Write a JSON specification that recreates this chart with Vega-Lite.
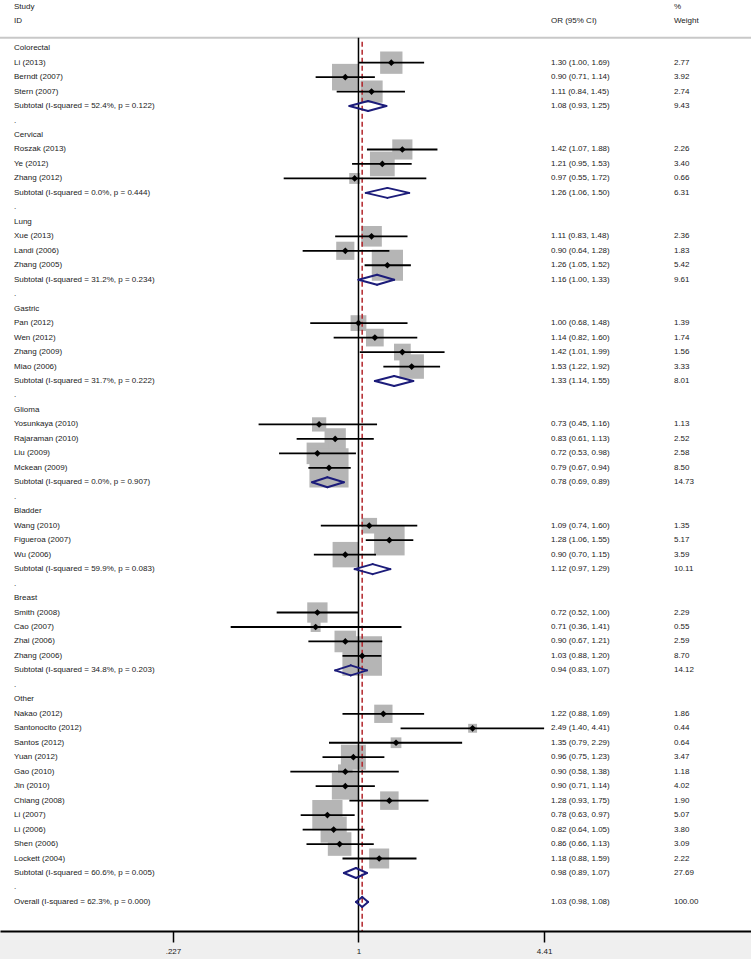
{
  "$schema": "https://vega.github.io/schema/vega-lite/v6.json",
  "width": 751,
  "height": 931,
  "autosize": {"type": "none"},
  "padding": {"left": 0, "right": 0, "top": 0, "bottom": 28},
  "background": "#efefef",
  "view": {"fill": "white", "stroke": null},
  "config": {
    "text": {"font": "Liberation Sans", "fontSize": 8, "color": "#1a1a1a"}
  },
  "datasets": {
    "rows": [
      {"row": 0, "type": "group", "label": "Colorectal"},
      {"row": 1, "type": "study", "label": "Li (2013)", "est": 1.30, "lo": 1.00, "hi": 1.69, "w": 2.77, "ci": "1.30 (1.00, 1.69)"},
      {"row": 2, "type": "study", "label": "Berndt (2007)", "est": 0.90, "lo": 0.71, "hi": 1.14, "w": 3.92, "ci": "0.90 (0.71, 1.14)"},
      {"row": 3, "type": "study", "label": "Stern (2007)", "est": 1.11, "lo": 0.84, "hi": 1.45, "w": 2.74, "ci": "1.11 (0.84, 1.45)"},
      {"row": 4, "type": "subtotal", "label": "Subtotal  (I-squared = 52.4%, p = 0.122)", "est": 1.08, "lo": 0.93, "hi": 1.25, "w": 9.43, "ci": "1.08 (0.93, 1.25)"},
      {"row": 5, "type": "sep", "label": "."},
      {"row": 6, "type": "group", "label": "Cervical"},
      {"row": 7, "type": "study", "label": "Roszak (2013)", "est": 1.42, "lo": 1.07, "hi": 1.88, "w": 2.26, "ci": "1.42 (1.07, 1.88)"},
      {"row": 8, "type": "study", "label": "Ye (2012)", "est": 1.21, "lo": 0.95, "hi": 1.53, "w": 3.40, "ci": "1.21 (0.95, 1.53)"},
      {"row": 9, "type": "study", "label": "Zhang (2012)", "est": 0.97, "lo": 0.55, "hi": 1.72, "w": 0.66, "ci": "0.97 (0.55, 1.72)"},
      {"row": 10, "type": "subtotal", "label": "Subtotal  (I-squared = 0.0%, p = 0.444)", "est": 1.26, "lo": 1.06, "hi": 1.50, "w": 6.31, "ci": "1.26 (1.06, 1.50)"},
      {"row": 11, "type": "sep", "label": "."},
      {"row": 12, "type": "group", "label": "Lung"},
      {"row": 13, "type": "study", "label": "Xue (2013)", "est": 1.11, "lo": 0.83, "hi": 1.48, "w": 2.36, "ci": "1.11 (0.83, 1.48)"},
      {"row": 14, "type": "study", "label": "Landi (2006)", "est": 0.90, "lo": 0.64, "hi": 1.28, "w": 1.83, "ci": "0.90 (0.64, 1.28)"},
      {"row": 15, "type": "study", "label": "Zhang (2005)", "est": 1.26, "lo": 1.05, "hi": 1.52, "w": 5.42, "ci": "1.26 (1.05, 1.52)"},
      {"row": 16, "type": "subtotal", "label": "Subtotal  (I-squared = 31.2%, p = 0.234)", "est": 1.16, "lo": 1.00, "hi": 1.33, "w": 9.61, "ci": "1.16 (1.00, 1.33)"},
      {"row": 17, "type": "sep", "label": "."},
      {"row": 18, "type": "group", "label": "Gastric"},
      {"row": 19, "type": "study", "label": "Pan (2012)", "est": 1.00, "lo": 0.68, "hi": 1.48, "w": 1.39, "ci": "1.00 (0.68, 1.48)"},
      {"row": 20, "type": "study", "label": "Wen (2012)", "est": 1.14, "lo": 0.82, "hi": 1.60, "w": 1.74, "ci": "1.14 (0.82, 1.60)"},
      {"row": 21, "type": "study", "label": "Zhang (2009)", "est": 1.42, "lo": 1.01, "hi": 1.99, "w": 1.56, "ci": "1.42 (1.01, 1.99)"},
      {"row": 22, "type": "study", "label": "Miao (2006)", "est": 1.53, "lo": 1.22, "hi": 1.92, "w": 3.33, "ci": "1.53 (1.22, 1.92)"},
      {"row": 23, "type": "subtotal", "label": "Subtotal  (I-squared = 31.7%, p = 0.222)", "est": 1.33, "lo": 1.14, "hi": 1.55, "w": 8.01, "ci": "1.33 (1.14, 1.55)"},
      {"row": 24, "type": "sep", "label": "."},
      {"row": 25, "type": "group", "label": "Glioma"},
      {"row": 26, "type": "study", "label": "Yosunkaya (2010)", "est": 0.73, "lo": 0.45, "hi": 1.16, "w": 1.13, "ci": "0.73 (0.45, 1.16)"},
      {"row": 27, "type": "study", "label": "Rajaraman (2010)", "est": 0.83, "lo": 0.61, "hi": 1.13, "w": 2.52, "ci": "0.83 (0.61, 1.13)"},
      {"row": 28, "type": "study", "label": "Liu (2009)", "est": 0.72, "lo": 0.53, "hi": 0.98, "w": 2.58, "ci": "0.72 (0.53, 0.98)"},
      {"row": 29, "type": "study", "label": "Mckean (2009)", "est": 0.79, "lo": 0.67, "hi": 0.94, "w": 8.50, "ci": "0.79 (0.67, 0.94)"},
      {"row": 30, "type": "subtotal", "label": "Subtotal  (I-squared = 0.0%, p = 0.907)", "est": 0.78, "lo": 0.69, "hi": 0.89, "w": 14.73, "ci": "0.78 (0.69, 0.89)"},
      {"row": 31, "type": "sep", "label": "."},
      {"row": 32, "type": "group", "label": "Bladder"},
      {"row": 33, "type": "study", "label": "Wang (2010)", "est": 1.09, "lo": 0.74, "hi": 1.60, "w": 1.35, "ci": "1.09 (0.74, 1.60)"},
      {"row": 34, "type": "study", "label": "Figueroa (2007)", "est": 1.28, "lo": 1.06, "hi": 1.55, "w": 5.17, "ci": "1.28 (1.06, 1.55)"},
      {"row": 35, "type": "study", "label": "Wu (2006)", "est": 0.90, "lo": 0.70, "hi": 1.15, "w": 3.59, "ci": "0.90 (0.70, 1.15)"},
      {"row": 36, "type": "subtotal", "label": "Subtotal  (I-squared = 59.9%, p = 0.083)", "est": 1.12, "lo": 0.97, "hi": 1.29, "w": 10.11, "ci": "1.12 (0.97, 1.29)"},
      {"row": 37, "type": "sep", "label": "."},
      {"row": 38, "type": "group", "label": "Breast"},
      {"row": 39, "type": "study", "label": "Smith (2008)", "est": 0.72, "lo": 0.52, "hi": 1.00, "w": 2.29, "ci": "0.72 (0.52, 1.00)"},
      {"row": 40, "type": "study", "label": "Cao (2007)", "est": 0.71, "lo": 0.36, "hi": 1.41, "w": 0.55, "ci": "0.71 (0.36, 1.41)"},
      {"row": 41, "type": "study", "label": "Zhai (2006)", "est": 0.90, "lo": 0.67, "hi": 1.21, "w": 2.59, "ci": "0.90 (0.67, 1.21)"},
      {"row": 42, "type": "study", "label": "Zhang (2006)", "est": 1.03, "lo": 0.88, "hi": 1.20, "w": 8.70, "ci": "1.03 (0.88, 1.20)"},
      {"row": 43, "type": "subtotal", "label": "Subtotal  (I-squared = 34.8%, p = 0.203)", "est": 0.94, "lo": 0.83, "hi": 1.07, "w": 14.12, "ci": "0.94 (0.83, 1.07)"},
      {"row": 44, "type": "sep", "label": "."},
      {"row": 45, "type": "group", "label": "Other"},
      {"row": 46, "type": "study", "label": "Nakao (2012)", "est": 1.22, "lo": 0.88, "hi": 1.69, "w": 1.86, "ci": "1.22 (0.88, 1.69)"},
      {"row": 47, "type": "study", "label": "Santonocito (2012)", "est": 2.49, "lo": 1.40, "hi": 4.41, "w": 0.44, "ci": "2.49 (1.40, 4.41)"},
      {"row": 48, "type": "study", "label": "Santos (2012)", "est": 1.35, "lo": 0.79, "hi": 2.29, "w": 0.64, "ci": "1.35 (0.79, 2.29)"},
      {"row": 49, "type": "study", "label": "Yuan (2012)", "est": 0.96, "lo": 0.75, "hi": 1.23, "w": 3.47, "ci": "0.96 (0.75, 1.23)"},
      {"row": 50, "type": "study", "label": "Gao (2010)", "est": 0.90, "lo": 0.58, "hi": 1.38, "w": 1.18, "ci": "0.90 (0.58, 1.38)"},
      {"row": 51, "type": "study", "label": "Jin (2010)", "est": 0.90, "lo": 0.71, "hi": 1.14, "w": 4.02, "ci": "0.90 (0.71, 1.14)"},
      {"row": 52, "type": "study", "label": "Chiang (2008)", "est": 1.28, "lo": 0.93, "hi": 1.75, "w": 1.90, "ci": "1.28 (0.93, 1.75)"},
      {"row": 53, "type": "study", "label": "Li (2007)", "est": 0.78, "lo": 0.63, "hi": 0.97, "w": 5.07, "ci": "0.78 (0.63, 0.97)"},
      {"row": 54, "type": "study", "label": "Li (2006)", "est": 0.82, "lo": 0.64, "hi": 1.05, "w": 3.80, "ci": "0.82 (0.64, 1.05)"},
      {"row": 55, "type": "study", "label": "Shen (2006)", "est": 0.86, "lo": 0.66, "hi": 1.13, "w": 3.09, "ci": "0.86 (0.66, 1.13)"},
      {"row": 56, "type": "study", "label": "Lockett (2004)", "est": 1.18, "lo": 0.88, "hi": 1.59, "w": 2.22, "ci": "1.18 (0.88, 1.59)"},
      {"row": 57, "type": "subtotal", "label": "Subtotal  (I-squared = 60.6%, p = 0.005)", "est": 0.98, "lo": 0.89, "hi": 1.07, "w": 27.69, "ci": "0.98 (0.89, 1.07)"},
      {"row": 58, "type": "sep", "label": "."},
      {"row": 59, "type": "overall", "label": "Overall  (I-squared = 62.3%, p = 0.000)", "est": 1.03, "lo": 0.98, "hi": 1.08, "w": 100.00, "ci": "1.03 (0.98, 1.08)"}
    ],
    "header": [
      {"row": -3, "label": "Study", "ci": "", "wt": "%"},
      {"row": -2, "label": "ID", "ci": "OR (95% CI)", "wt": "Weight"}
    ]
  },
  "data": {"name": "rows"},
  "encoding": {
    "y": {"field": "row", "type": "quantitative", "scale": {"domain": [-3.331, 61.01], "reverse": true, "nice": false, "zero": false}, "axis": null}
  },
  "layer": [
    {
      "transform": [{"filter": "datum.type == 'overall'"}],
      "mark": {"type": "rule", "color": "#c8c8c8", "strokeWidth": 2},
      "encoding": {"y": {"datum": -0.72, "type": "quantitative"}}
    },
    {
      "transform": [{"filter": "datum.type == 'study'"}],
      "mark": {"type": "point", "shape": "square", "filled": true, "color": "#b5b5b5", "opacity": 1},
      "encoding": {
        "x": {"field": "est", "type": "quantitative", "scale": {"type": "log", "domain": [0.05695, 23.05], "nice": false},
          "axis": {"values": [0.227, 1, 4.41], "title": null, "grid": false, "domain": true, "ticks": true, "labels": true, "domainColor": "black", "domainWidth": 2, "tickColor": "black", "tickWidth": 1.5, "tickSize": 11, "labelPadding": 5, "labelFont": "Liberation Sans", "labelFontSize": 8, "labelColor": "#1a1a1a", "labelFlush": false, "labelOverlap": false, "labelExpr": "datum.value < 0.5 ? '.227' : (datum.value < 2 ? '1' : '4.41')", "zindex": 1}},
        "size": {"field": "w", "type": "quantitative", "scale": {"type": "linear", "domain": [0, 10], "range": [0, 1800], "zero": true}, "legend": null}
      }
    },
    {
      "transform": [{"filter": "datum.type == 'overall'"}],
      "mark": {"type": "rule", "color": "black", "strokeWidth": 1.5},
      "encoding": {
        "x": {"datum": 1, "type": "quantitative", "scale": {"type": "log", "domain": [0.05695, 23.05], "nice": false}},
        "y": {"datum": -0.72, "type": "quantitative"},
        "y2": {"datum": 61.01}
      }
    },
    {
      "transform": [{"filter": "datum.type == 'overall'"}],
      "mark": {"type": "rule", "color": "#b3262c", "strokeWidth": 1.5, "strokeDash": [5, 3]},
      "encoding": {
        "x": {"field": "est", "type": "quantitative", "scale": {"type": "log", "domain": [0.05695, 23.05], "nice": false}},
        "y": {"datum": -0.45, "type": "quantitative"},
        "y2": {"datum": 61.01}
      }
    },
    {
      "transform": [{"filter": "datum.type == 'study'"}],
      "mark": {"type": "rule", "color": "black", "strokeWidth": 1.8},
      "encoding": {
        "x": {"field": "lo", "type": "quantitative", "scale": {"type": "log", "domain": [0.05695, 23.05], "nice": false}},
        "x2": {"field": "hi"}
      }
    },
    {
      "transform": [{"filter": "datum.type == 'study'"}],
      "mark": {"type": "point", "shape": "diamond", "filled": true, "color": "black", "opacity": 1, "size": 45},
      "encoding": {
        "x": {"field": "est", "type": "quantitative", "scale": {"type": "log", "domain": [0.05695, 23.05], "nice": false}}
      }
    },
    {
      "transform": [{"filter": "datum.type == 'subtotal' || datum.type == 'overall'"}],
      "mark": {"type": "rule", "color": "#1c1c7a", "strokeWidth": 2, "strokeCap": "round", "y2Offset": -5},
      "encoding": {
        "x": {"field": "lo", "type": "quantitative", "scale": {"type": "log", "domain": [0.05695, 23.05], "nice": false}},
        "x2": {"field": "est"},
        "y2": {"field": "row"}
      }
    },
    {
      "transform": [{"filter": "datum.type == 'subtotal' || datum.type == 'overall'"}],
      "mark": {"type": "rule", "color": "#1c1c7a", "strokeWidth": 2, "strokeCap": "round", "y2Offset": 5},
      "encoding": {
        "x": {"field": "lo", "type": "quantitative", "scale": {"type": "log", "domain": [0.05695, 23.05], "nice": false}},
        "x2": {"field": "est"},
        "y2": {"field": "row"}
      }
    },
    {
      "transform": [{"filter": "datum.type == 'subtotal' || datum.type == 'overall'"}],
      "mark": {"type": "rule", "color": "#1c1c7a", "strokeWidth": 2, "strokeCap": "round", "yOffset": -5},
      "encoding": {
        "x": {"field": "est", "type": "quantitative", "scale": {"type": "log", "domain": [0.05695, 23.05], "nice": false}},
        "x2": {"field": "hi"},
        "y2": {"field": "row"}
      }
    },
    {
      "transform": [{"filter": "datum.type == 'subtotal' || datum.type == 'overall'"}],
      "mark": {"type": "rule", "color": "#1c1c7a", "strokeWidth": 2, "strokeCap": "round", "yOffset": 5},
      "encoding": {
        "x": {"field": "est", "type": "quantitative", "scale": {"type": "log", "domain": [0.05695, 23.05], "nice": false}},
        "x2": {"field": "hi"},
        "y2": {"field": "row"}
      }
    },
    {
      "mark": {"type": "text", "align": "left", "baseline": "middle"},
      "encoding": {
        "x": {"datum": 0.0637, "type": "quantitative", "scale": {"type": "log", "domain": [0.05695, 23.05], "nice": false}},
        "text": {"field": "label", "type": "nominal"}
      }
    },
    {
      "transform": [{"filter": "isValid(datum.ci)"}],
      "mark": {"type": "text", "align": "left", "baseline": "middle"},
      "encoding": {
        "x": {"datum": 4.659, "type": "quantitative", "scale": {"type": "log", "domain": [0.05695, 23.05], "nice": false}},
        "text": {"field": "ci", "type": "nominal"}
      }
    },
    {
      "transform": [{"filter": "isValid(datum.w)"}],
      "mark": {"type": "text", "align": "left", "baseline": "middle"},
      "encoding": {
        "x": {"datum": 12.45, "type": "quantitative", "scale": {"type": "log", "domain": [0.05695, 23.05], "nice": false}},
        "text": {"field": "w", "type": "quantitative", "format": ".2f"}
      }
    },
    {
      "data": {"name": "header"},
      "mark": {"type": "text", "align": "left", "baseline": "middle", "dy": 2},
      "encoding": {
        "x": {"datum": 0.0637, "type": "quantitative", "scale": {"type": "log", "domain": [0.05695, 23.05], "nice": false}},
        "text": {"field": "label", "type": "nominal"}
      }
    },
    {
      "data": {"name": "header"},
      "mark": {"type": "text", "align": "left", "baseline": "middle", "dy": 2},
      "encoding": {
        "x": {"datum": 4.659, "type": "quantitative", "scale": {"type": "log", "domain": [0.05695, 23.05], "nice": false}},
        "text": {"field": "ci", "type": "nominal"}
      }
    },
    {
      "data": {"name": "header"},
      "mark": {"type": "text", "align": "left", "baseline": "middle", "dy": 2},
      "encoding": {
        "x": {"datum": 12.45, "type": "quantitative", "scale": {"type": "log", "domain": [0.05695, 23.05], "nice": false}},
        "text": {"field": "wt", "type": "nominal"}
      }
    }
  ]
}
